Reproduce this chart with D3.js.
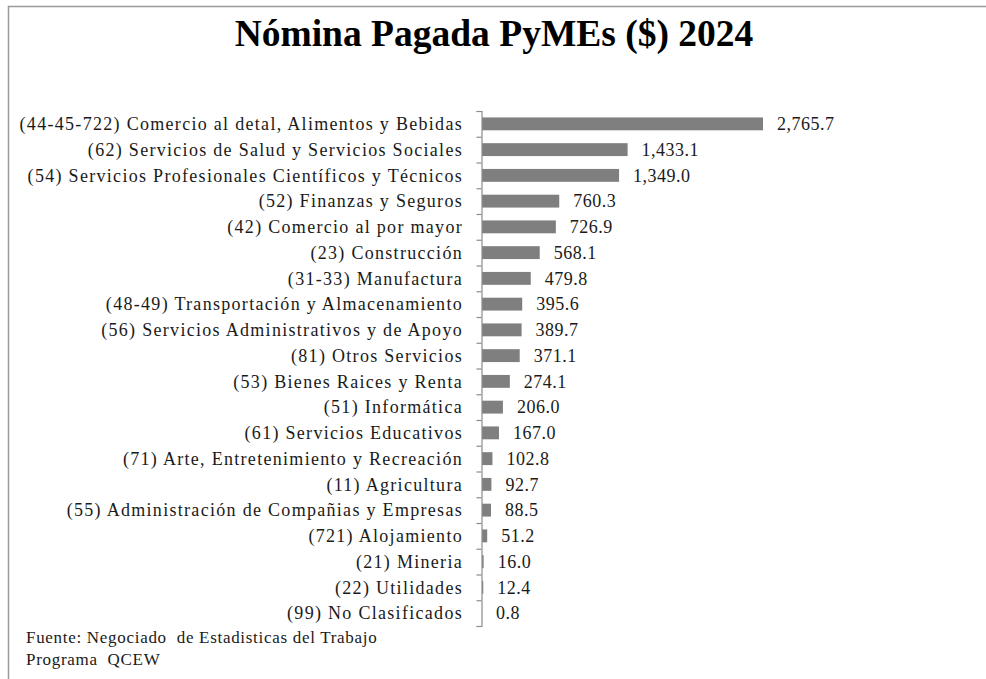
<!DOCTYPE html>
<html>
<head>
<meta charset="utf-8">
<script src="https://cdn.jsdelivr.net/npm/d3@7"></script>
<style>
	body { margin: 0; background: #fff; }
</style>
</head>
<body>
<div id="chart"></div>
<script>
// datos
const categories = [
	"(44-45-722) Comercio al detal, Alimentos y Bebidas",
	"(62) Servicios de Salud y Servicios Sociales",
	"(54) Servicios Profesionales Científicos y Técnicos",
	"(52) Finanzas y Seguros",
	"(42) Comercio al por mayor",
	"(23) Construcción",
	"(31-33) Manufactura",
	"(48-49) Transportación y Almacenamiento",
	"(56) Servicios Administrativos y de Apoyo",
	"(81) Otros Servicios",
	"(53) Bienes Raices y Renta",
	"(51) Informática",
	"(61) Servicios Educativos",
	"(71) Arte, Entretenimiento y Recreación",
	"(11) Agricultura",
	"(55) Administración de Compañias y Empresas",
	"(721) Alojamiento",
	"(21) Mineria",
	"(22) Utilidades",
	"(99) No Clasificados"
];
const values = [2765.7, 1433.1, 1349.0, 760.3, 726.9, 568.1, 479.8, 395.6, 389.7, 371.1,
	274.1, 206.0, 167.0, 102.8, 92.7, 88.5, 51.2, 16.0, 12.4, 0.8];
const title = "Nómina Pagada PyMEs ($) 2024";
const sourceLines = ["Fuente: Negociado  de Estadisticas del Trabajo", "Programa  QCEW"];

const W = 986, H = 679;
const axisX = 481, plotTop = 111, plotBottom = 626;
const serif = "Liberation Serif";

let svg = d3.select("#chart").append("svg")
	.attr("width", W).attr("height", H);

// marco
svg.append("rect")
	.attr("x", 8.5).attr("y", 6.5)
	.attr("width", W + 20).attr("height", H + 20)
	.attr("fill", "none").attr("stroke", "#9a9a9a").attr("stroke-width", 1.5);

svg.append("text")
	.attr("x", 494).attr("y", 46)
	.attr("text-anchor", "middle")
	.attr("font-family", serif)
	.attr("font-size", 37.5).attr("font-weight", "bold")
	.attr("fill", "#000")
	.text(title);

let x = d3.scaleLinear().domain([0, 2765.7]).range([axisX + 1, 763]);
let y = d3.scaleBand().domain(categories).range([plotTop, plotBottom]).paddingInner(0.5).paddingOuter(0.25);
let yTicks = d3.scaleLinear().domain([0, categories.length]).range([plotTop, plotBottom]);

// barras
svg.append("g").selectAll("rect")
	.data(values)
	.join("rect")
	.attr("x", x(0))
	.attr("y", (d, i) => y(categories[i]))
	.attr("width", d => x(d) - x(0))
	.attr("height", y.bandwidth())
	.attr("fill", "#7f7f7f");

// eje vertical con marcas entre categorías
let yAxis = d3.axisLeft(yTicks)
	.tickValues(d3.range(categories.length + 1))
	.tickSize(5).tickSizeOuter(5)
	.tickFormat("");
let axisG = svg.append("g").attr("transform", "translate(" + (axisX + 0.5) + ",0)").call(yAxis);
axisG.selectAll("path, line").attr("stroke", "#8c8c8c").attr("stroke-width", 1.2);

// etiquetas de categoría
svg.append("g").selectAll("text")
	.data(categories)
	.join("text")
	.attr("x", 463)
	.attr("y", d => y(d) + y.bandwidth() / 2)
	.attr("dy", "0.35em")
	.attr("text-anchor", "end")
	.attr("font-family", serif)
	.attr("font-size", 18)
	.attr("letter-spacing", 1.3)
	.attr("fill", "#1a1a1a")
	.text(d => d);

// etiquetas de valor
let fmt = d3.format(",.1f");
svg.append("g").selectAll("text")
	.data(values)
	.join("text")
	.attr("x", d => x(d) + 14)
	.attr("y", (d, i) => y(categories[i]) + y.bandwidth() / 2)
	.attr("dy", "0.35em")
	.attr("font-family", serif)
	.attr("font-size", 18)
	.attr("letter-spacing", 0.5)
	.attr("fill", "#1a1a1a")
	.text(d => fmt(d));

// fuente
svg.append("g").selectAll("text")
	.data(sourceLines)
	.join("text")
	.attr("x", 26)
	.attr("y", (d, i) => 643 + i * 22)
	.attr("font-family", serif)
	.attr("font-size", 17)
	.attr("letter-spacing", 0.7)
	.attr("fill", "#1a1a1a")
	.style("white-space", "pre")
	.text(d => d);
</script>
</body>
</html>
